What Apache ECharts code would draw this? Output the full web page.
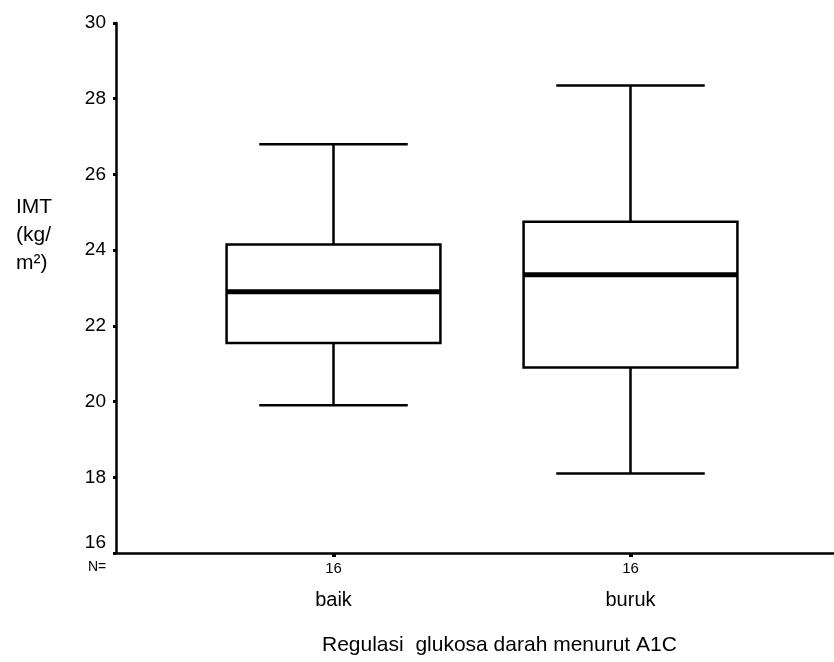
<!DOCTYPE html>
<html>
<head>
<meta charset="utf-8">
<script src="https://cdn.jsdelivr.net/npm/echarts@6/dist/echarts.min.js"></script>
<style>
  html, body { margin: 0; padding: 0; background: #fff; }
  #chart { width: 834px; height: 662px; }
</style>
</head>
<body>
<div id="chart"></div>
<script>
// kategori dan data boxplot (min, Q1, median, Q3, max)
var categories = ["baik", "buruk"];
var counts = [16, 16];
var whiskerLow = [19.9, 18.1];
var q1 = [21.55, 20.9];
var median = [22.9, 23.35];
var q3 = [24.15, 24.75];
var whiskerHigh = [26.8, 28.35];
var yTicks = { min: 16, max: 30, step: 2 };

var boxData = categories.map(function (c, i) {
  return [i, whiskerLow[i], q1[i], median[i], q3[i], whiskerHigh[i]];
});

var chart = echarts.init(document.getElementById("chart"));
var font = "Arial, 'Liberation Sans', sans-serif";

function renderBox(params, api) {
  var i = api.value(0);
  var band = api.size([1, 0])[0];
  var halfBox = band * 0.36;
  var halfCap = band * 0.25;
  var pMin = api.coord([i, api.value(1)]);
  var pQ1 = api.coord([i, api.value(2)]);
  var pMed = api.coord([i, api.value(3)]);
  var pQ3 = api.coord([i, api.value(4)]);
  var pMax = api.coord([i, api.value(5)]);
  var x = pMed[0];
  var stroke = { stroke: "#000", lineWidth: 2.5 };
  return {
    type: "group",
    children: [
      { type: "line", shape: { x1: x, y1: pMax[1], x2: x, y2: pQ3[1] }, style: stroke },
      { type: "line", shape: { x1: x, y1: pQ1[1], x2: x, y2: pMin[1] }, style: stroke },
      { type: "line", shape: { x1: x - halfCap, y1: pMax[1], x2: x + halfCap, y2: pMax[1] }, style: stroke },
      { type: "line", shape: { x1: x - halfCap, y1: pMin[1], x2: x + halfCap, y2: pMin[1] }, style: stroke },
      {
        type: "rect",
        shape: { x: x - halfBox, y: pQ3[1], width: halfBox * 2, height: pQ1[1] - pQ3[1] },
        style: { fill: "#fff", stroke: "#000", lineWidth: 2.5 }
      },
      {
        type: "line",
        shape: { x1: x - halfBox, y1: pMed[1], x2: x + halfBox, y2: pMed[1] },
        style: { stroke: "#000", lineWidth: 5 }
      }
    ]
  };
}

chart.setOption({
  animation: false,
  backgroundColor: "#fff",
  title: {
    text: "Regulasi  glukosa darah menurut A1C",
    left: 317,
    top: 630,
    textStyle: { fontFamily: font, fontSize: 21, fontWeight: "normal", color: "#000" }
  },
  graphic: [
    {
      type: "text",
      left: 16,
      top: 193,
      style: {
        text: "IMT\n(kg/\nm²)",
        fontFamily: font,
        fontSize: 21,
        lineHeight: 28,
        fill: "#000"
      }
    },
    {
      type: "text",
      left: 88,
      top: 560,
      style: { text: "N=", fontFamily: font, fontSize: 14, fill: "#000" }
    }
  ],
  grid: [
    { left: 116, right: 0, top: 23, bottom: 109 },
    { left: 185, right: 55, top: 23, bottom: 109 }
  ],
  xAxis: [
    {
      gridIndex: 0,
      type: "value",
      min: 0,
      max: 1,
      axisLine: { lineStyle: { color: "#000", width: 2.5 } },
      axisTick: { show: false },
      axisLabel: { show: false },
      splitLine: { show: false }
    },
    {
      gridIndex: 1,
      type: "category",
      data: categories,
      axisLine: { show: false },
      axisTick: { show: true, alignWithLabel: true, length: 4, lineStyle: { color: "#000", width: 4 } },
      axisLabel: {
        margin: 8,
        formatter: function (v, idx) {
          return "{n|" + counts[idx] + "}\n{c|" + v + "}";
        },
        rich: {
          n: { fontFamily: font, fontSize: 15, color: "#000", lineHeight: 16 },
          c: { fontFamily: font, fontSize: 20, color: "#000", lineHeight: 46 }
        }
      }
    }
  ],
  yAxis: [
    {
      gridIndex: 0,
      type: "value",
      min: yTicks.min,
      max: yTicks.max,
      interval: yTicks.step,
      axisLine: { show: true, lineStyle: { color: "#000", width: 2.5 } },
      axisTick: { show: true, length: 3, lineStyle: { color: "#000", width: 3 } },
      axisLabel: {
        margin: 10,
        fontFamily: font,
        fontSize: 19,
        color: "#000",
        formatter: function (v) {
          // label 16 sedikit di atas garis sumbu x
          return v === yTicks.min ? "{low|" + v + "}" : String(v);
        },
        rich: {
          low: { fontFamily: font, fontSize: 19, color: "#000", padding: [0, 0, 20, 0] }
        }
      },
      splitLine: { show: false }
    },
    {
      gridIndex: 1,
      type: "value",
      min: yTicks.min,
      max: yTicks.max,
      show: false
    }
  ],
  series: [
    {
      type: "custom",
      xAxisIndex: 1,
      yAxisIndex: 1,
      renderItem: renderBox,
      encode: { x: 0, y: [1, 2, 3, 4, 5] },
      data: boxData
    }
  ]
});
</script>
</body>
</html>
